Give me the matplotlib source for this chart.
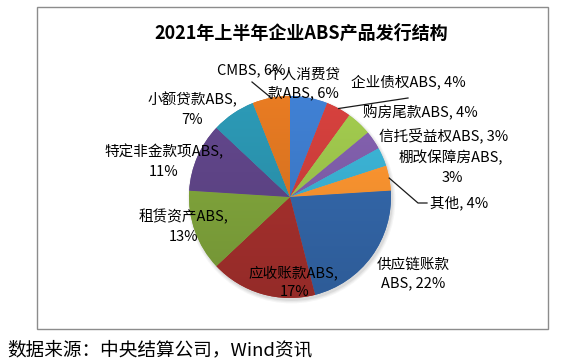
import numpy as np
import matplotlib

matplotlib.use("Agg")
import matplotlib.pyplot as plt
from matplotlib.colors import to_rgb
from matplotlib.patches import Rectangle, Circle

W, H = 565, 364
plt.rcParams["font.family"] = ["Noto Sans CJK SC", "DejaVu Sans"]

# data, clockwise from 12 o'clock
categories = [
    "个人消费贷款ABS", "企业债权ABS", "购房尾款ABS", "信托受益权ABS",
    "棚改保障房ABS", "其他", "供应链账款ABS", "应收账款ABS",
    "租赁资产ABS", "特定非金款项ABS", "小额贷款ABS", "CMBS",
]
shares = [6, 4, 4, 3, 3, 4, 22, 17, 13, 11, 7, 6]
colors = [
    "#3D7AC9", "#CC3E3B", "#9BC24B", "#7E5DA8", "#3AAFD0", "#F7922F",
    "#3366A8", "#A5302D", "#7FA33B", "#5E4486", "#2A92AD", "#DC7521",
]
title = "2021年上半年企业ABS产品发行结构"
source = "数据来源：中央结算公司，Wind资讯"

# label layout (pixel centres of each text line, top-left origin)
label_lines = [
    [("个人消费贷", 304, 75), ("款ABS, 6%", 303, 93)],
    [("企业债权ABS, 4%", 408, 82)],
    [("购房尾款ABS, 4%", 420, 113)],
    [("信托受益权ABS, 3%", 444, 135)],
    [("棚改保障房ABS,", 451, 158), ("3%", 452, 178)],
    [("其他, 4%", 459, 203)],
    [("供应链账款", 413, 265), ("ABS, 22%", 413, 283)],
    [("应收账款ABS,", 293, 273), ("17%", 295, 292)],
    [("租赁资产ABS,", 184, 217), ("13%", 184, 237)],
    [("特定非金款项ABS,", 164, 152), ("11%", 164, 172)],
    [("小额贷款ABS,", 192, 100), ("7%", 192, 120)],
    [("CMBS, 6%", 251, 70)],
]
# leader lines: slice index -> label-side points
leaders = {
    11: [(252, 82)],
    1: [(408, 98)],
    5: [(427, 203), (418, 203)],
}

cx, cy, r = 290, H - 197, 101


def Y(y):
    return H - y


fig = plt.figure(figsize=(W / 100, H / 100), dpi=100)
ax = fig.add_axes([0, 0, 1, 1])

# chart frame
ax.add_patch(Rectangle((37, Y(329)), 511, 322, fill=False, edgecolor="#8C8C8C",
                       linewidth=1.0, zorder=0))

# soft shadow under the pie
for k, a in enumerate([0.10, 0.08, 0.06]):
    ax.add_patch(Circle((cx + 1.5, cy - 2.5), r + 0.5 + k * 1.2, color="#606060",
                        alpha=a, linewidth=0, zorder=1))

wedges, _ = ax.pie(shares, colors=colors, startangle=90, counterclock=False,
                   center=(cx, cy), radius=r, wedgeprops=dict(linewidth=0, zorder=2))

# vertical gradient inside each slice
rows = np.linspace(0, 1, 256)[:, None, None]
fac = 1.06 - 0.16 * rows
for w, c in zip(wedges, colors):
    img = np.clip(np.array(to_rgb(c))[None, None, :] * fac, 0, 1)
    img = np.repeat(img, 2, axis=1)
    im = ax.imshow(img, extent=(cx - r, cx + r, cy - r, cy + r), origin="upper",
                   interpolation="bilinear", zorder=3)
    im.set_clip_path(w)

# leader lines to slice edges
for idx, pts in leaders.items():
    w = wedges[idx]
    mid = np.deg2rad((w.theta1 + w.theta2) / 2)
    ex, ey = cx + r * np.cos(mid), cy + r * np.sin(mid)
    xs = [p[0] for p in pts] + [ex]
    ys = [Y(p[1]) for p in pts] + [ey]
    ax.plot(xs, ys, color="#1A1A1A", linewidth=0.9, zorder=4)

for lines in label_lines:
    for txt, x, y in lines:
        ax.text(x, Y(y), txt, ha="center", va="center", fontsize=10.5,
                color="black", zorder=5)

ax.text(301, Y(33), title, ha="center", va="center", fontsize=13,
        fontweight="bold", color="black", zorder=5)
ax.text(7, Y(350), source, ha="left", va="center", fontsize=13.4,
        color="black", zorder=5)

ax.set_xlim(0, W)
ax.set_ylim(0, H)
ax.set_aspect("auto")
ax.axis("off")

fig.savefig("out.png", dpi=100)
